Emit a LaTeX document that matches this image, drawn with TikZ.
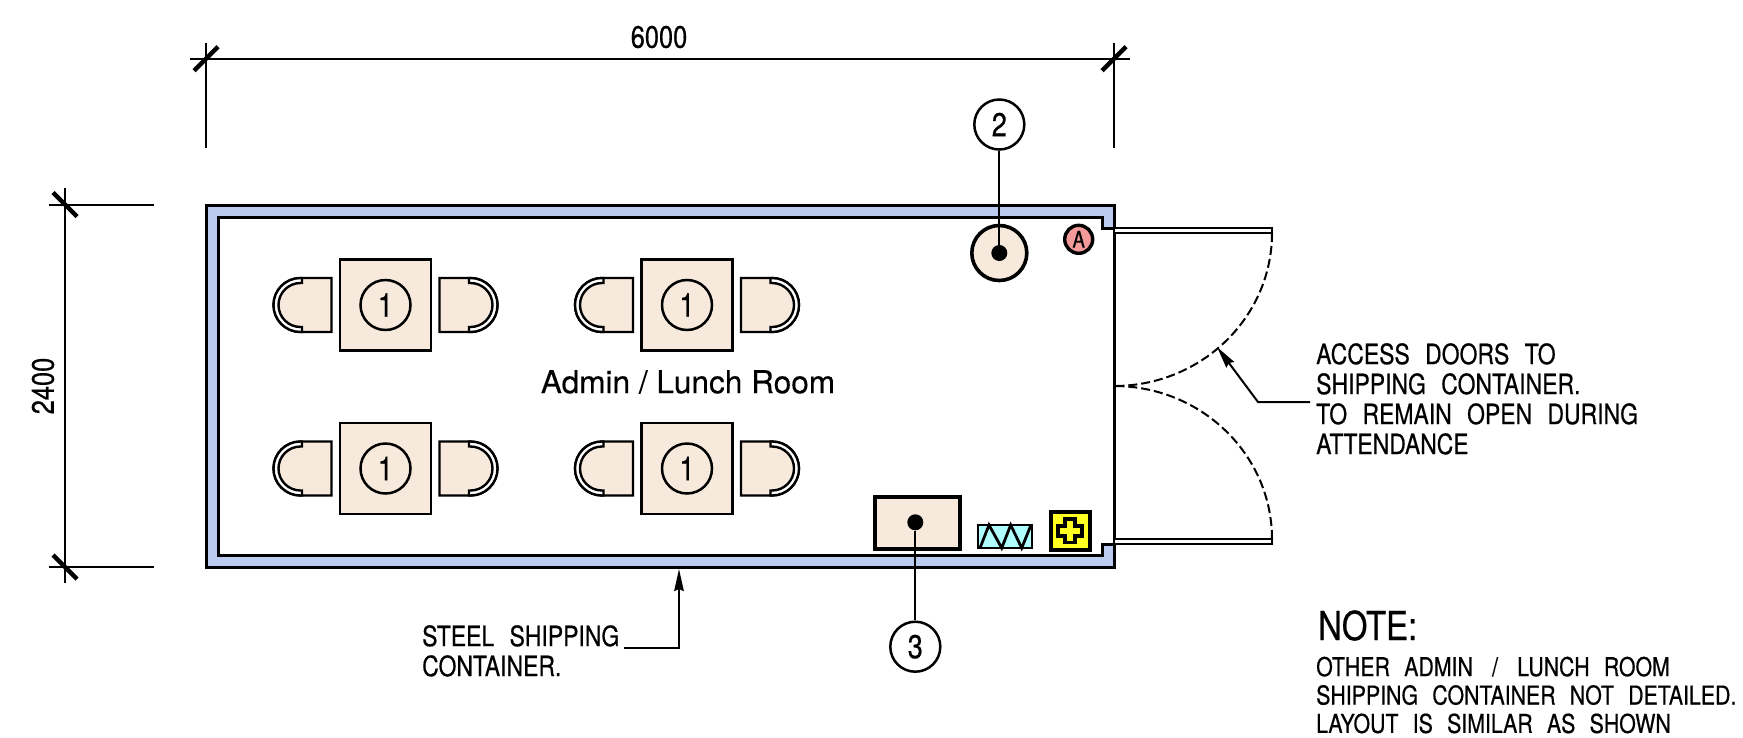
\documentclass[tikz,border=0pt]{standalone}
\usepackage{fontspec}
\setmainfont{TeX Gyre Heros}
\newfontfamily\iso[FakeStretch=0.82,WordSpace=2.4,FakeBold=0.5]{TeX Gyre Heros}
\newfontfamily\romfont[FakeBold=0.25]{TeX Gyre Heros}
\usetikzlibrary{arrows.meta}
\definecolor{wallblue}{HTML}{BBCBEF}
\definecolor{furn}{HTML}{F7E9DC}
\definecolor{pinkfill}{HTML}{F49A9A}
\definecolor{heatfill}{HTML}{AFFFFF}
\definecolor{aidfill}{HTML}{FFFF22}
\tikzset{
  x=1pt,y=-1pt,
  ink/.style={line width=2.4pt,draw=black,line join=miter},
  thin line/.style={line width=2pt,draw=black},
  heavy/.style={line width=3pt,draw=black,line join=miter},
  tick/.style={line width=4.5pt,draw=black},
  tag/.style={circle,draw=black,line width=2.5pt,fill=white,minimum size=50pt,inner sep=0pt,font=\fontsize{33}{33}\selectfont\iso},
  dim/.style={font=\fontsize{31}{31}\selectfont\iso},
  note/.style={font=\fontsize{28}{30}\selectfont\iso,align=left,anchor=north west,inner sep=0pt},
  small note/.style={note,font=\fontsize{26}{28.4}\selectfont\iso},
  leader/.style={line width=2pt,draw=black,-{Stealth[length=22pt,width=9.5pt,inset=2pt]}}
}
\newcommand{\tableset}[3]{%
  \begin{scope}[shift={(#1,#2)}]
    \node[draw=black,line width=2.4pt,fill=furn,minimum size=91pt,inner sep=0pt] at (0,0) {};
    \node[tag,fill=furn] (#3) at (0,0) {1};
    \foreach \s in {-1,1}{
      \begin{scope}[xscale=\s]
        \filldraw[ink,fill=furn] (54,-27) -- (85,-27) arc[start angle=-90,end angle=90,radius=27] -- (54,27) -- cycle;
        \draw[ink,fill=white] (85,-27) arc[start angle=-90,end angle=90,radius=27] -- (83.5,27) -- (83.5,22) -- (85,22) arc[start angle=90,end angle=-90,radius=22] -- (83.5,-22) -- (83.5,-27) -- cycle;
      \end{scope}
    }
  \end{scope}}
\begin{document}
\begin{tikzpicture}
\useasboundingbox (0,0) rectangle (1743,737);
% wall
\filldraw[heavy,fill=wallblue,even odd rule]
  (206,205) -- (1114,205) -- (1114,567) -- (206,567) -- cycle
  (218,217) -- (1102,217) -- (1102,228) -- (1114,228) -- (1114,544) -- (1102,544) -- (1102,555) -- (218,555) -- cycle;
% doors
\draw[thin line,fill=white] (1114,228) rectangle (1272,233);
\draw[thin line,fill=white] (1114,539) rectangle (1272,544);
\draw[thin line,dash pattern=on 9pt off 4pt] (1272,233) arc[start angle=0,end angle=90,x radius=158,y radius=153];
\draw[thin line,dash pattern=on 9pt off 4pt] (1272,539) arc[start angle=0,end angle=-90,x radius=158,y radius=153];
% tables
\tableset{385.5}{305}{t1}
\tableset{687}{305}{t2}
\tableset{385.5}{468.5}{t3}
\tableset{687}{468.5}{t4}
\node[font=\fontsize{31.6}{32}\selectfont\romfont] (room) at (688,382) {Admin / Lunch Room};
% bin
\node[circle,draw=black,line width=3.6pt,fill=furn,minimum size=55pt,inner sep=0pt] (stool) at (999.3,253) {};
\node[circle,fill=black,minimum size=16pt,inner sep=0pt] (stooldot) at (999.3,253) {};
\node[tag] (two) at (999.3,124.5) {2};
\draw[thin line] (two) -- (stooldot);
% extinguisher
\node[circle,draw=black,line width=3.4pt,fill=pinkfill,minimum size=28pt,inner sep=0pt,font=\fontsize{23}{23}\selectfont\iso] (ext) at (1078.7,239.3) {A};
% desk
\node[draw=black,line width=4pt,fill=furn,minimum width=85pt,minimum height=52pt,inner sep=0pt] (desk) at (917,523) {};
\node[circle,fill=black,minimum size=16pt,inner sep=0pt] (deskdot) at (915.3,522.3) {};
\node[tag] (three) at (915.3,646.7) {3};
\draw[thin line] (deskdot) -- (three);
% heater
\filldraw[ink,line width=2.8pt,fill=heatfill] (978,525) rectangle (1032,548);
\draw[ink,line width=2.8pt] (980,548) -- (989,525) -- (1001.7,548) -- (1010.7,525) -- (1021.7,548) -- (1031,525);
% first aid
\filldraw[heavy,line width=4pt,fill=aidfill] (1050.5,511.5) rectangle (1089.5,550);
\filldraw[ink,line width=3.4pt,fill=aidfill]
  (1065,519) -- (1075,519) -- (1075,526) -- (1082,526) -- (1082,536) -- (1075,536) -- (1075,542.5) -- (1065,542.5) -- (1065,536) -- (1058,536) -- (1058,526) -- (1065,526) -- cycle;
% dims
\draw[thin line] (190,58.7) -- (1130,58.7);
\draw[thin line] (206,43) -- (206,148);
\draw[thin line] (1114,43) -- (1114,148);
\draw[tick] (194,70.7) -- (218,46.7);
\draw[tick] (1102,70.7) -- (1126,46.7);
\node[dim] (d6000) at (659,37) {6000};
\draw[thin line] (49,204.5) -- (154,204.5);
\draw[thin line] (49,567) -- (154,567);
\draw[thin line] (65,188) -- (65,583);
\draw[tick] (53,192.5) -- (77,216.5);
\draw[tick] (53,555) -- (77,579);
\node[dim,rotate=90] (d2400) at (43,386) {2400};
% notes
\node[note] (acc) at (1316,343) {ACCESS DOORS TO\\SHIPPING CONTAINER.\\TO REMAIN OPEN DURING\\ATTENDANCE};
\coordinate (accA) at (1310,402);
\coordinate (accB) at (1258,402);
\coordinate (accT) at (1217,347);
\draw[leader] (accA) -- (accB) -- (accT);
\node[note] (steel) at (422,625) {STEEL SHIPPING\\CONTAINER.};
\coordinate (stA) at (624,648);
\coordinate (stB) at (679,648);
\coordinate (stT) at (679,569);
\draw[leader] (stA) -- (stB) -- (stT);
\node[note,font=\fontsize{40}{40}\selectfont\iso] (nh) at (1318,610) {NOTE:};
\node[small note] (nt) at (1316,656.5) {OTHER ADMIN \hspace{5pt}/\hspace{5pt} LUNCH ROOM\\SHIPPING CONTAINER NOT DETAILED.\\LAYOUT IS SIMILAR AS SHOWN};
\end{tikzpicture}
\end{document}
